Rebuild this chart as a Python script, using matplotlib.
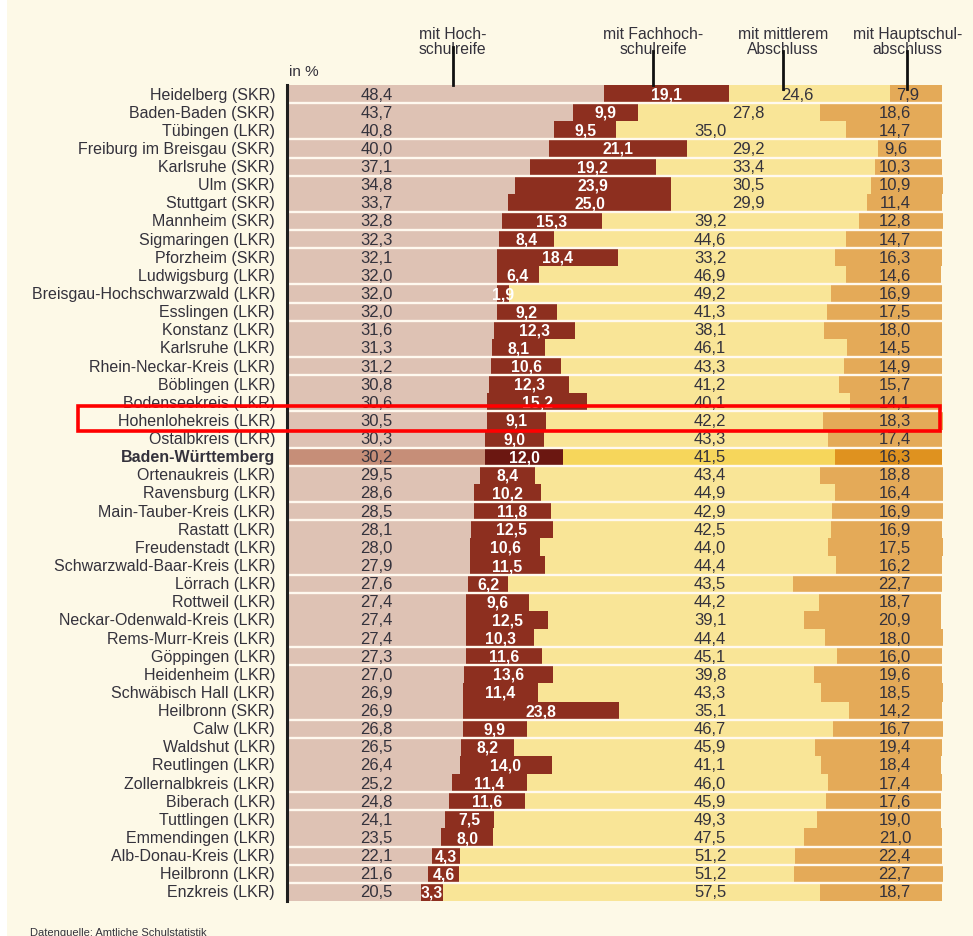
import matplotlib
matplotlib.use("Agg")
import matplotlib.pyplot as plt
from matplotlib.patches import Rectangle
import numpy as np

plt.rcParams['font.family'] = ['Liberation Sans', 'DejaVu Sans']

districts = [
    "Heidelberg (SKR)", "Baden-Baden (SKR)", "Tübingen (LKR)", "Freiburg im Breisgau (SKR)",
    "Karlsruhe (SKR)", "Ulm (SKR)", "Stuttgart (SKR)", "Mannheim (SKR)", "Sigmaringen (LKR)",
    "Pforzheim (SKR)", "Ludwigsburg (LKR)", "Breisgau-Hochschwarzwald (LKR)", "Esslingen (LKR)",
    "Konstanz (LKR)", "Karlsruhe (LKR)", "Rhein-Neckar-Kreis (LKR)", "Böblingen (LKR)",
    "Bodenseekreis (LKR)", "Hohenlohekreis (LKR)", "Ostalbkreis (LKR)", "Baden-Württemberg",
    "Ortenaukreis (LKR)", "Ravensburg (LKR)", "Main-Tauber-Kreis (LKR)", "Rastatt (LKR)",
    "Freudenstadt (LKR)", "Schwarzwald-Baar-Kreis (LKR)", "Lörrach (LKR)", "Rottweil (LKR)",
    "Neckar-Odenwald-Kreis (LKR)", "Rems-Murr-Kreis (LKR)", "Göppingen (LKR)", "Heidenheim (LKR)",
    "Schwäbisch Hall (LKR)", "Heilbronn (SKR)", "Calw (LKR)", "Waldshut (LKR)", "Reutlingen (LKR)",
    "Zollernalbkreis (LKR)", "Biberach (LKR)", "Tuttlingen (LKR)", "Emmendingen (LKR)",
    "Alb-Donau-Kreis (LKR)", "Heilbronn (LKR)", "Enzkreis (LKR)",
]
hochschulreife = [48.4, 43.7, 40.8, 40.0, 37.1, 34.8, 33.7, 32.8, 32.3, 32.1, 32.0, 32.0, 32.0,
                  31.6, 31.3, 31.2, 30.8, 30.6, 30.5, 30.3, 30.2, 29.5, 28.6, 28.5, 28.1, 28.0,
                  27.9, 27.6, 27.4, 27.4, 27.4, 27.3, 27.0, 26.9, 26.9, 26.8, 26.5, 26.4, 25.2,
                  24.8, 24.1, 23.5, 22.1, 21.6, 20.5]
fachhochschulreife = [19.1, 9.9, 9.5, 21.1, 19.2, 23.9, 25.0, 15.3, 8.4, 18.4, 6.4, 1.9, 9.2,
                      12.3, 8.1, 10.6, 12.3, 15.2, 9.1, 9.0, 12.0, 8.4, 10.2, 11.8, 12.5, 10.6,
                      11.5, 6.2, 9.6, 12.5, 10.3, 11.6, 13.6, 11.4, 23.8, 9.9, 8.2, 14.0, 11.4,
                      11.6, 7.5, 8.0, 4.3, 4.6, 3.3]
mittlerer = [24.6, 27.8, 35.0, 29.2, 33.4, 30.5, 29.9, 39.2, 44.6, 33.2, 46.9, 49.2, 41.3,
             38.1, 46.1, 43.3, 41.2, 40.1, 42.2, 43.3, 41.5, 43.4, 44.9, 42.9, 42.5, 44.0,
             44.4, 43.5, 44.2, 39.1, 44.4, 45.1, 39.8, 43.3, 35.1, 46.7, 45.9, 41.1, 46.0,
             45.9, 49.3, 47.5, 51.2, 51.2, 57.5]
hauptschul = [7.9, 18.6, 14.7, 9.6, 10.3, 10.9, 11.4, 12.8, 14.7, 16.3, 14.6, 16.9, 17.5,
              18.0, 14.5, 14.9, 15.7, 14.1, 18.3, 17.4, 16.3, 18.8, 16.4, 16.9, 16.9, 17.5,
              16.2, 22.7, 18.7, 20.9, 18.0, 16.0, 19.6, 18.5, 14.2, 16.7, 19.4, 18.4, 17.4,
              17.6, 19.0, 21.0, 22.4, 22.7, 18.7]
headers = ["mit Hoch-\nschulreife", "mit Fachhoch-\nschulreife",
           "mit mittlerem\nAbschluss", "mit Hauptschul-\nabschluss"]
state_name = "Baden-Württemberg"
highlight_name = "Hohenlohekreis (LKR)"

# styling
BG = "#FDF9E7"
TXT = "#34323c"
col_normal = ["#DEC2B4", "#8D2F1F", "#F9E597", "#E4AA58"]
col_state = ["#C68E78", "#6B1711", "#F6D65B", "#DF921F"]
separators_after = [0, 2, 3, 4, 6, 7, 8, 10, 11, 12, 14, 15, 17, 19, 20, 22, 23, 26, 27,
                    30, 31, 34, 35, 38, 39, 41, 42, 43]


def fmt(v):
    return f"{v:.1f}".replace(".", ",")


W, H = 973, 937
fig = plt.figure(figsize=(W / 100, H / 100), dpi=100, facecolor=BG)
fig.patches.append(Rectangle((0, 0), 7 / W, 1, transform=fig.transFigure,
                             facecolor="white", edgecolor="none", zorder=0))

x0_px, top_px, bot_px = 287, 86, 902
px_per_pct = 6.55
xmax = 101
ax = fig.add_axes([x0_px / W, (H - bot_px) / H, xmax * px_per_pct / W, (bot_px - top_px) / H])
ax.set_facecolor("none")
n = len(districts)
ax.set_xlim(0, xmax)
ax.set_ylim(n - 0.5, -0.5)
ax.axis("off")

y = np.arange(n)
series = [hochschulreife, fachhochschulreife, mittlerer, hauptschul]
left = np.zeros(n)
for k, vals in enumerate(series):
    vals = np.array(vals)
    colors = [col_state[k] if d == state_name else col_normal[k] for d in districts]
    ax.barh(y, vals, left=left, height=1.0, color=colors, edgecolor="none", zorder=2)
    left = left + vals
totals = left

# thin light separators between some rows
for i in separators_after:
    ax.plot([0, max(totals[i], totals[i + 1])], [i + 0.5, i + 0.5], color="#FFF9EF",
            lw=1.7, zorder=3, solid_capstyle="butt")

ax.plot([0, 0], [-0.5, n - 0.5], color="#1f1f1f", lw=2.2, zorder=4, clip_on=False)

for i, name in enumerate(districts):
    bold = name == state_name
    ax.text(-1.83, i, name, ha="right", va="center", fontsize=11.5, color=TXT,
            fontweight="bold" if bold else "normal", clip_on=False)
    h, f, m, s = hochschulreife[i], fachhochschulreife[i], mittlerer[i], hauptschul[i]
    ax.text(13.7, i, fmt(h), ha="center", va="center", fontsize=12, color=TXT, zorder=5)
    ax.text(h + f / 2, i, fmt(f), ha="center", va="center", fontsize=11.3, color="white",
            fontweight="bold", zorder=5)
    m_start = h + f
    if m_start > 65:
        mx = 77.9
    elif m_start > 52:
        mx = 70.5
    else:
        mx = 64.6
    ax.text(mx, i, fmt(m), ha="center", va="center", fontsize=12, color=TXT, zorder=5)
    sx = max(92.8, m_start + m + 2.6)
    ax.text(sx, i, fmt(s), ha="center", va="center", fontsize=12, color=TXT, zorder=5)


def py(pix):
    # figure pixel row -> data row coordinate
    return (pix - top_px) / ((bot_px - top_px) / n) - 0.5


# column headers with pointer lines
header_x = [25.3, 55.9, 75.7, 94.7]
line_spans = [(48, 86), (52, 86), (52, 90), (52, 90)]
for hx, txt, (a, b) in zip(header_x, headers, line_spans):
    ax.text(hx, py(42), txt, ha="center", va="center", fontsize=11.3, color=TXT,
            linespacing=1.05, clip_on=False, zorder=5)
    ax.plot([hx, hx], [py(a), py(b)], color="#111111", lw=2.0, clip_on=False, zorder=6)

ax.text(0.3, py(72), "in %", ha="left", va="center", fontsize=11, color=TXT, clip_on=False)

# highlight frame
hl = districts.index(highlight_name)
rx0 = (78 - x0_px) / px_per_pct
rx1 = (940 - x0_px) / px_per_pct
ax.add_patch(Rectangle((rx0, hl - 0.79), rx1 - rx0, 1.38, fill=False, edgecolor="#FF0000",
                       lw=2.6, clip_on=False, zorder=7))

fig.text(30 / W, 1 - 933 / H, "Datenquelle: Amtliche Schulstatistik", ha="left",
         va="center", fontsize=8, color=TXT)

fig.savefig("out.png", dpi=100, facecolor=BG)
